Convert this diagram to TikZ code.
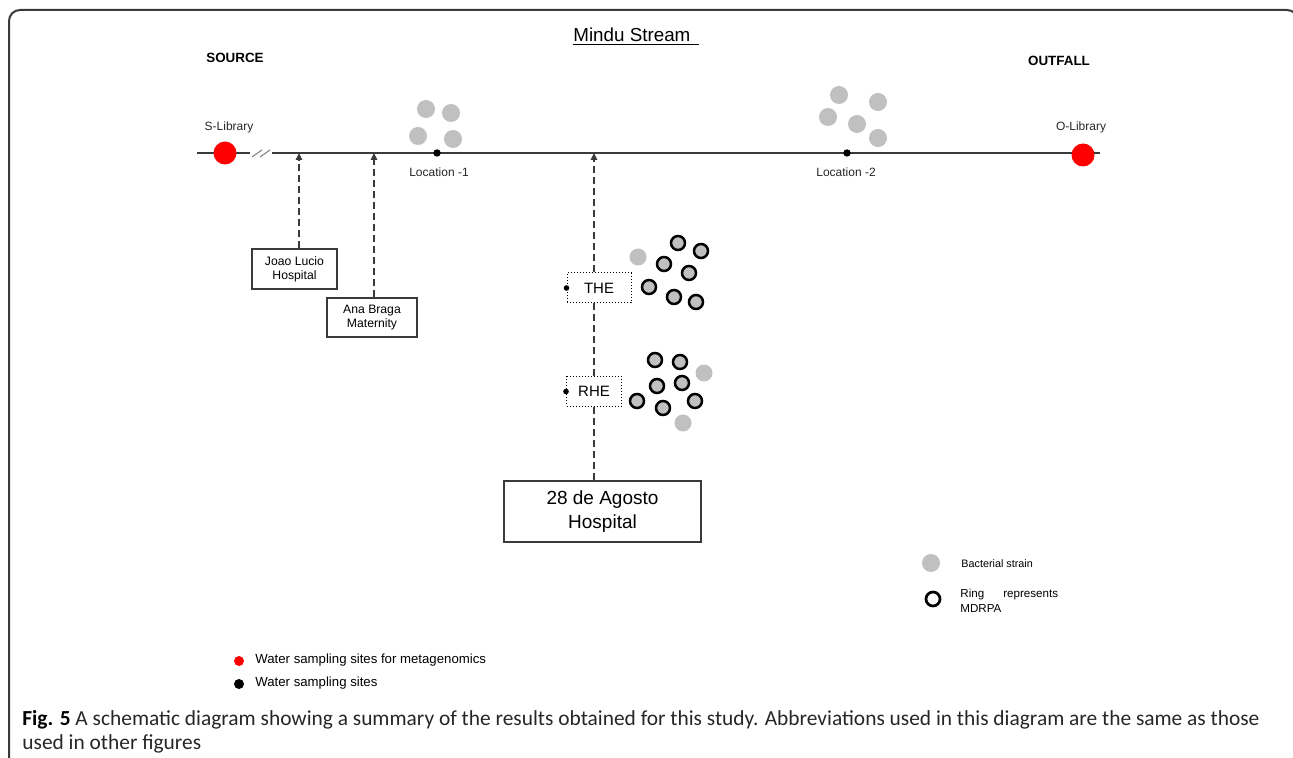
\documentclass[tikz,border=0pt]{standalone}
\usepackage{fontspec}
\setmainfont{Liberation Sans}
\newfontfamily\capfont{Carlito}
\usetikzlibrary{arrows.meta}
\definecolor{strainGray}{HTML}{C0C0C0}
\definecolor{lineGray}{HTML}{3A3A3A}
\tikzset{
	site/.style={circle, fill=red, minimum size=11.5pt, inner sep=0pt},
	point/.style={circle, fill=black, minimum size=3.7pt, inner sep=0pt},
	strain/.style={circle, fill=strainGray, minimum size=9pt, inner sep=0pt},
	mdrpa/.style={circle, draw=black, line width=1.25pt, fill=strainGray, minimum size=7pt, inner sep=0pt},
	lbl/.style={font=\fontsize{6}{7.2}\selectfont, text=black!85},
	hosp/.style={draw=lineGray, line width=0.6pt, fill=white, align=center, inner sep=0pt, font=\fontsize{6.1}{7}\selectfont},
	eff/.style={draw=black, densely dotted, line width=0.5pt, fill=white, inner sep=0pt, font=\fontsize{7.5}{9}\selectfont},
	inflow/.style={lineGray, line width=0.7pt, dash pattern=on 3.5pt off 2pt},
	tip/.style={-{Triangle[length=3.5pt,width=3.2pt]}}
}
\begin{document}
\begin{tikzpicture}[x=0.5pt, y=-0.5pt]
	\useasboundingbox (0,0) rectangle (1293,758);
	
	\draw[lineGray, line width=1pt, rounded corners=5.5pt] (9,780) -- (9,10) -- (1298,10) -- (1298,780);
	
	\node[font=\fontsize{9.4}{11}\selectfont, anchor=west, inner sep=0pt] (title) at (573,37) {\underline{Mindu Stream\hspace{4.5pt}}};
	\node[font=\bfseries\fontsize{6.7}{8}\selectfont] (source) at (235,58) {SOURCE};
	\node[font=\bfseries\fontsize{6.7}{8}\selectfont] (outfall) at (1059,61) {OUTFALL};
	
	\coordinate (riverW) at (197,153);
	\coordinate (breakL) at (250,153);
	\coordinate (breakR) at (272,153);
	\coordinate (riverE) at (1100,153);
	\draw[lineGray, line width=0.8pt] (riverW) -- (breakL);
	\draw[lineGray, line width=0.8pt] (breakR) -- (riverE);
	\draw[black!45, line width=0.6pt] (252,157) -- (262,150);
	\draw[black!45, line width=0.6pt] (260,157) -- (270,150);
	
	\node[site] (slib) at (225,153) {};
	\node[site] (olib) at (1083,155) {};
	\node[lbl] at (229,127) {S-Library};
	\node[lbl] at (1081,127) {O-Library};
	
	\node[point] (loc1) at (437,153) {};
	\node[point] (loc2) at (847,153) {};
	\node[lbl] at (439,172) {Location -1};
	\node[lbl] at (846,172) {Location -2};
	
	\node[strain] (la) at (426,109) {};
	\node[strain] (lb) at (451,113) {};
	\node[strain] (lc) at (418,136) {};
	\node[strain] (ld) at (453,139) {};
	
	\node[strain] (ma) at (839,95) {};
	\node[strain] (mb) at (878,102) {};
	\node[strain] (mc) at (828,117) {};
	\node[strain] (md) at (857,124) {};
	\node[strain] (me) at (878,138) {};
	
	\coordinate (jin) at (299,153);
	\coordinate (bin) at (374,153);
	\coordinate (ain) at (594,153);
	
	\node[hosp, minimum width=42.5pt, minimum height=20pt] (joao) at (294.5,269) {Joao Lucio\\Hospital};
	\node[hosp, minimum width=45pt, minimum height=19.5pt] (ana) at (372,317.5) {Ana Braga\\Maternity};
	\node[hosp, minimum width=98.5pt, minimum height=30.5pt, font=\fontsize{9.5}{12}\selectfont] (agosto) at (602.5,511.5) {28 de Agosto\\Hospital};
	\node[eff, minimum width=32pt, minimum height=15pt] (the) at (599,288) {THE};
	\node[eff, minimum width=27.5pt, minimum height=14.5pt] (rhe) at (594,391.5) {RHE};
	
	\draw[inflow, tip] (joao.north -| jin) -- (jin);
	\draw[inflow, tip] (ana.north -| bin) -- (bin);
	\draw[inflow, line width=0.9pt] (agosto.north -| ain) -- (rhe.south -| ain);
	\draw[inflow, line width=0.9pt] (rhe.north -| ain) -- (the.south -| ain);
	\draw[inflow, line width=0.9pt, tip] (the.north -| ain) -- (ain);
	
	\fill (the.west) circle (1.4pt);
	\fill (rhe.west) circle (1.4pt);
	
	\node[strain, minimum size=8.5pt] (ta) at (638,257) {};
	\node[mdrpa] (tb) at (678,243) {};
	\node[mdrpa] (tc) at (701,251) {};
	\node[mdrpa] (td) at (664,264) {};
	\node[mdrpa] (te) at (689,273) {};
	\node[mdrpa] (tf) at (649,287) {};
	\node[mdrpa] (tg) at (674,297) {};
	\node[mdrpa] (th) at (696,302) {};
	
	\node[mdrpa] (ra) at (655,360) {};
	\node[mdrpa] (rb) at (680,362) {};
	\node[mdrpa] (rc) at (657,386) {};
	\node[mdrpa] (rd) at (682,383) {};
	\node[mdrpa] (re) at (637,401) {};
	\node[mdrpa] (rf) at (663,408) {};
	\node[mdrpa] (rg) at (695,401) {};
	\node[strain, minimum size=8.5pt] (rh) at (704,373) {};
	\node[strain, minimum size=8.5pt] (ri) at (683,423) {};
	
	\node[strain] (keystrain) at (931,563) {};
	\node[circle, draw=black, line width=1.35pt, fill=white, minimum size=7pt, inner sep=0pt] (keyring) at (933,599) {};
	\node[font=\fontsize{5.4}{6.5}\selectfont, anchor=west, inner sep=0pt] at (961,564) {Bacterial strain};
	\node[font=\fontsize{5.8}{7.5}\selectfont, anchor=west, align=left, inner sep=0pt] at (960,601) {Ring\hspace{9.5pt}represents\\MDRPA};
	
	\node[circle, fill=red, minimum size=5pt, inner sep=0pt] (keymeta) at (239,661) {};
	\node[circle, fill=black, minimum size=5pt, inner sep=0pt] (keysite) at (239,684) {};
	\node[font=\fontsize{6.6}{8}\selectfont, anchor=west, inner sep=0pt] at (255,660) {Water sampling sites for metagenomics};
	\node[font=\fontsize{6.6}{8}\selectfont, anchor=west, inner sep=0pt] at (255,683) {Water sampling sites};
	
	\node[font=\capfont\fontsize{10.7}{12}\selectfont, anchor=base west, align=left, inner sep=0pt, text=black!85] (caption) at (22,749) {\textbf{\color{black}Fig. 5} A schematic diagram showing a summary of the results obtained for this study. Abbreviations used in this diagram are the same as those\\used in other figures};
	
\end{tikzpicture}
\end{document}
